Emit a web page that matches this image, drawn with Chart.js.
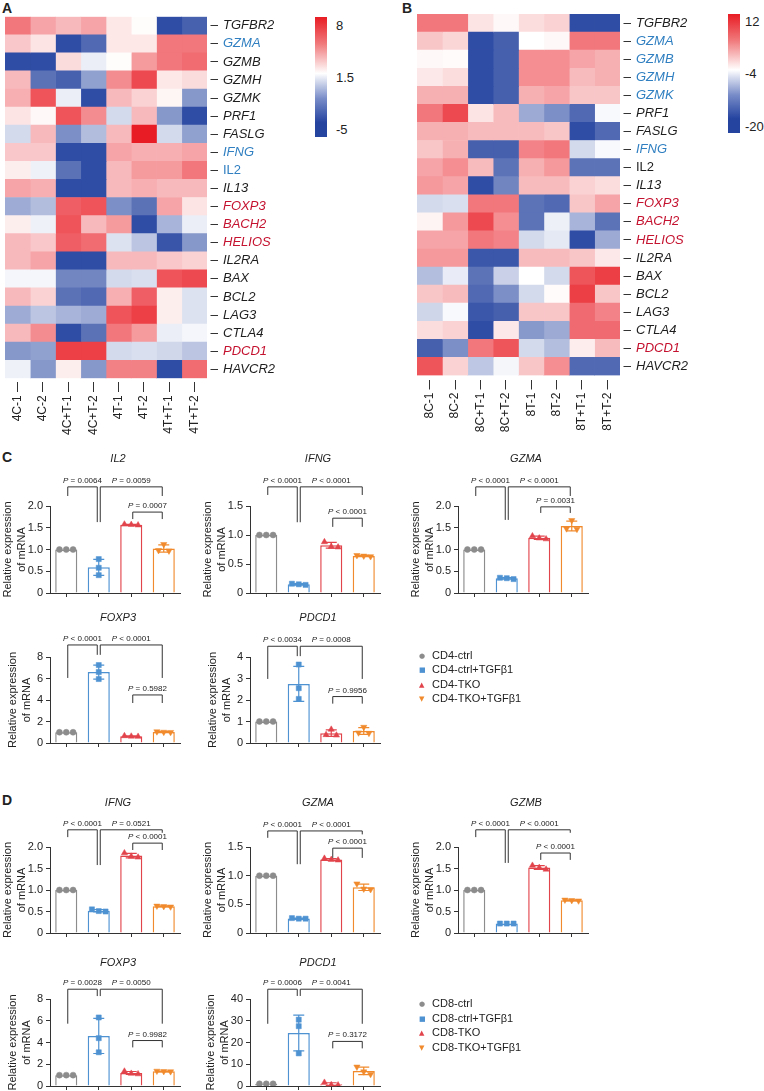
<!DOCTYPE html>
<html><head><meta charset="utf-8">
<script src="https://cdn.jsdelivr.net/npm/chart.js@4"></script>
<style>
html,body{margin:0;padding:0;background:#fff;overflow:hidden;width:764px;height:1091px;}
#wrap{position:relative;width:764px;height:1091px;font-family:'Liberation Sans',Arial,sans-serif;color:#222;}
canvas{position:absolute;}
.lbl{position:absolute;font-weight:bold;font-size:14px;line-height:14px;}
.ttl{position:absolute;font-style:italic;font-size:11px;line-height:12px;transform:translate(-50%,-50%);white-space:nowrap;}
.cb{position:absolute;width:12px;}
.cbl{position:absolute;font-size:13px;line-height:14px;transform:translateY(-50%);}
.leg{position:absolute;font-size:11px;line-height:13px;white-space:nowrap;transform:translateY(-50%);}
.leg span{display:inline-block;width:13px;font-size:7px;font-family:'DejaVu Sans',sans-serif;vertical-align:1px;}
</style></head><body><div id="wrap"></div>
<script>
// ---------------- DATA ----------------
const genes = ['TGFBR2','GZMA','GZMB','GZMH','GZMK','PRF1','FASLG','IFNG','IL2','IL13','FOXP3','BACH2','HELIOS','IL2RA','BAX','BCL2','LAG3','CTLA4','PDCD1','HAVCR2'];
const samplesA = ['4C-1','4C-2','4C+T-1','4C+T-2','4T-1','4T-2','4T+T-1','4T+T-2'];
const samplesB = ['8C-1','8C-2','8C+T-1','8C+T-2','8T-1','8T-2','8T+T-1','8T+T-2'];
const geneColA = ['k','b','k','k','k','k','k','b','b','k','r','r','r','k','k','k','k','k','r','k'];
const geneColB = ['k','b','b','b','b','k','k','b','k','k','r','r','r','k','k','k','k','k','r','k'];
const scaleA = [-5, 1.5, 8];
const scaleB = [-20, -4, 12];
const heatA = [
  [5.4,4.1,3.5,4.1,2.2,1.6,-4.7,-4.0],
  [3.1,2.3,-4.7,-3.7,2.2,2.2,5.4,5.4],
  [-4.7,-4.7,2.5,0.9,1.6,4.4,5.4,5.7],
  [3.5,-3.4,-4.0,-1.8,4.8,6.7,2.2,2.5],
  [3.8,6.4,0.9,-4.7,3.5,2.8,1.8,-2.1],
  [2.3,1.7,6.4,4.8,0.2,3.5,-2.1,-4.7],
  [0.2,3.5,-2.4,-0.8,3.5,8.0,0.2,-1.8],
  [3.1,3.1,-4.7,-4.7,4.1,3.8,3.8,4.1],
  [2.0,1.0,-3.4,-4.7,3.5,4.4,4.4,5.4],
  [4.1,3.8,-4.7,-4.7,3.5,3.8,3.5,3.5],
  [-1.4,-0.8,6.1,6.4,-2.4,-3.4,4.1,2.3],
  [2.0,1.0,6.4,3.5,4.4,-4.7,-1.1,0.9],
  [3.5,3.1,6.1,5.7,0.5,-0.5,-4.4,-2.1],
  [3.5,4.1,-4.7,-4.7,3.5,3.5,3.1,2.8],
  [1.2,1.2,-2.7,-2.7,0.2,0.4,6.4,6.7],
  [3.5,2.8,-3.4,-3.7,3.8,6.1,2.0,0.5],
  [-1.4,-0.5,-1.1,-1.4,6.4,7.0,2.0,0.5],
  [3.5,4.8,-4.7,-3.4,5.4,4.4,0.9,1.2],
  [-2.1,-1.8,7.0,7.0,0.2,0.4,0.1,-0.5],
  [1.0,-2.1,2.0,-2.1,5.1,5.1,-4.7,5.7]
];
const heatB = [
  [5.6,5.6,-2.1,-3.5,-1.6,-0.8,-19.2,-19.2],
  [0,-1.1,-19.2,-17.6,-4,-3.5,5.6,5.6],
  [-3.5,-3.7,-19.2,-17.6,4,4,2.4,1.6],
  [-2.4,-1.6,-19.2,-17.6,4,4,0.8,1.6],
  [1.6,1.6,-19.2,-17.6,1.6,2.4,0,0],
  [5.6,8.8,-2.1,0.8,-11.2,-13.6,-16.8,-4.5],
  [1.6,1.6,0.8,0.8,0.8,0,-19.2,-16.8],
  [0,1.6,-17.6,-17.6,4.8,5.6,-7.2,-4.5],
  [2.4,4,0.8,-16,1.6,3.2,-16,-16],
  [3.2,2.4,-19.2,-14.4,0.8,0.8,-0.8,-1.6],
  [-7.2,-6.7,5.6,5.6,-16,-16.8,0,2.4],
  [-3.2,3.2,8.8,4,-16,-5.3,-10.4,-16],
  [2.4,2.4,5.6,4.8,-7.2,-5.9,-19.2,-11.2],
  [3.2,3.2,-18.4,-18.4,0.8,0.8,0,-2.4],
  [-9.6,-5.6,-16,-8,-4,-7.2,8,9.6],
  [0,0.8,-16.8,-13.6,-7.2,-3.7,9.6,0],
  [-7.5,-4.5,-18.4,-17.6,0,0,6.4,4.8],
  [-1.6,-0.8,-19.2,-2.4,-12.8,-11.2,6.4,6.4],
  [-17.6,-13.6,5.6,8,-7.2,-9.6,-2.7,0.8],
  [8,-0.8,-8.8,-4.8,0,4,-16.8,-16.8]
];
const groupsCD4 = ['CD4-ctrl','CD4-ctrl+TGFβ1','CD4-TKO','CD4-TKO+TGFβ1'];
const groupsCD8 = ['CD8-ctrl','CD8-ctrl+TGFβ1','CD8-TKO','CD8-TKO+TGFβ1'];
// replicate values (3 per group): ctrl, ctrl+TGFb1, TKO, TKO+TGFb1
const C_IL2   = [[1,1,1],[0.78,0.58,0.41],[1.58,1.57,1.56],[1.12,0.97,0.98]];
const C_IFNG  = [[1,1,1],[0.16,0.15,0.14],[0.88,0.80,0.79],[0.65,0.64,0.63]];
const C_GZMA  = [[1,1,1],[0.35,0.34,0.32],[1.31,1.26,1.24],[1.67,1.48,1.47]];
const C_FOXP3 = [[1,1,1],[7.25,6.6,5.95],[0.66,0.62,0.6],[1.06,1.02,1.0]];
const C_PDCD1 = [[1,1,1],[3.65,2.55,2.05],[0.63,0.38,0.36],[0.74,0.48,0.46]];
const D_IFNG  = [[1,1,1],[0.55,0.51,0.5],[1.86,1.78,1.76],[0.63,0.62,0.61]];
const D_GZMA  = [[1,1,1],[0.26,0.25,0.25],[1.3,1.28,1.27],[0.86,0.77,0.76]];
const D_GZMB  = [[1,1,1],[0.22,0.22,0.22],[1.57,1.52,1.48],[0.77,0.76,0.75]];
const D_FOXP3 = [[1,1,1],[6.3,4.4,3.1],[1.35,1.15,1.1],[1.38,1.35,1.33]];
const D_PDCD1 = [[1,1,1],[30.5,27.5,15],[1.6,0.5,0.4],[8.8,6.6,5.4]];
// significance brackets: groups a-b, bracket top / leg ends in axis units, P text
const BR_C_IL2   = [{a:0,b:1,top:2.44,ea:2.23,eb:1.63,p:'= 0.0064'},{a:1,b:3,top:2.44,ea:1.63,eb:2.23,p:'= 0.0059'},{a:2,b:3,top:1.86,ea:1.70,eb:1.70,p:'= 0.0007'}];
const BR_C_IFNG  = [{a:0,b:1,top:1.83,ea:1.69,eb:1.22,p:'< 0.0001'},{a:1,b:3,top:1.83,ea:1.22,eb:1.69,p:'< 0.0001'},{a:2,b:3,top:1.29,ea:1.14,eb:1.14,p:'< 0.0001'}];
const BR_C_GZMA  = [{a:0,b:1,top:2.44,ea:2.23,eb:1.68,p:'< 0.0001'},{a:1,b:3,top:2.44,ea:1.68,eb:2.23,p:'< 0.0001'},{a:2,b:3,top:1.98,ea:1.84,eb:1.84,p:'= 0.0031'}];
const BR_C_FOXP3 = [{a:0,b:1,top:9.12,ea:6.05,eb:8.2,p:'< 0.0001'},{a:1,b:3,top:9.12,ea:8.2,eb:6.05,p:'< 0.0001'},{a:2,b:3,top:4.47,ea:3.72,eb:3.72,p:'= 0.5982'}];
const BR_C_PDCD1 = [{a:0,b:1,top:4.5,ea:2.98,eb:4.04,p:'< 0.0034'},{a:1,b:3,top:4.5,ea:4.04,eb:2.98,p:'= 0.0008'},{a:2,b:3,top:2.16,ea:1.83,eb:1.83,p:'= 0.9956'}];
const BR_D_IFNG  = [{a:0,b:1,top:2.4,ea:2.23,eb:1.58,p:'< 0.0001'},{a:1,b:3,top:2.4,ea:1.58,eb:2.33,p:'= 0.0521'},{a:2,b:3,top:2.09,ea:1.93,eb:1.93,p:'< 0.0001'}];
const BR_D_GZMA  = [{a:0,b:1,top:1.78,ea:1.66,eb:1.2,p:'< 0.0001'},{a:1,b:3,top:1.78,ea:1.2,eb:1.72,p:'< 0.0001'},{a:2,b:3,top:1.48,ea:1.31,eb:1.31,p:'< 0.0001'}];
const BR_D_GZMB  = [{a:0,b:1,top:2.4,ea:2.23,eb:1.63,p:'< 0.0001'},{a:1,b:3,top:2.4,ea:1.63,eb:2.33,p:'< 0.0001'},{a:2,b:3,top:1.86,ea:1.70,eb:1.70,p:'< 0.0001'}];
const BR_D_FOXP3 = [{a:0,b:1,top:8.9,ea:5.73,eb:8.27,p:'= 0.0028'},{a:1,b:3,top:8.9,ea:8.27,eb:5.73,p:'= 0.0050'},{a:2,b:3,top:4.18,ea:3.55,eb:3.55,p:'= 0.9982'}];
const BR_D_PDCD1 = [{a:0,b:1,top:44.5,ea:28.6,eb:41.4,p:'= 0.0006'},{a:1,b:3,top:44.5,ea:41.4,eb:28.6,p:'= 0.0041'},{a:2,b:3,top:20.5,ea:17.3,eb:17.3,p:'= 0.3172'}];

// ---------------- STYLE ----------------
const FONT = "'Liberation Sans', Arial, sans-serif";
Chart.defaults.font.family = FONT;
Chart.defaults.color = '#222';
const LABEL_COLORS = {k:'#1e1e1e', b:'#2f7fc1', r:'#c4122f'};
const GROUP_COLORS = ['#8c8c8c','#4e92d2','#e2444c','#f08a2c'];
const STYLES = ['circle','rect','triangle','triangle'];
const RADII = [3, 3.6, 3.6, 3.6];
const MARKS = ['●','■','▲','▼'];
const wrap = document.getElementById('wrap');

function addCanvas(left, top, w, h) {
  const c = document.createElement('canvas');
  c.width = w; c.height = h;
  Object.assign(c.style, {left: left + 'px', top: top + 'px', width: w + 'px', height: h + 'px'});
  wrap.appendChild(c);
  return c;
}
function addDiv(cls, html, left, top, style) {
  const d = document.createElement('div');
  d.className = cls; d.innerHTML = html;
  d.style.left = left + 'px'; d.style.top = top + 'px';
  if (style) Object.assign(d.style, style);
  wrap.appendChild(d);
  return d;
}
function heatColor(v, s) {
  const [lo, mid, hi] = s;
  const blue = [37, 68, 160], red = [232, 28, 36];
  let t, c;
  if (v >= mid) { t = Math.min(1, (v - mid) / (hi - mid)); c = red; }
  else { t = Math.min(1, (mid - v) / (mid - lo)); c = blue; }
  const m = c.map(k => Math.round(255 + (k - 255) * t));
  return `rgb(${m[0]},${m[1]},${m[2]})`;
}

function heatmap(g) {
  const cv = addCanvas(g.left, 0, g.width, g.height);
  new Chart(cv, {
    type: 'bar',
    data: {
      labels: genes,
      datasets: g.samples.map((s, c) => ({
        label: s,
        data: genes.map(() => [c, c + 1]),
        backgroundColor: g.matrix.map(row => heatColor(row[c], g.scale)),
        borderWidth: 0, barPercentage: 1, categoryPercentage: 1, grouped: false
      }))
    },
    options: {
      indexAxis: 'y', responsive: false, animation: false, devicePixelRatio: 1, events: [],
      layout: {padding: {left: g.padLeft, top: g.padTop, right: 0, bottom: 0}},
      plugins: {legend: {display: false}, tooltip: {enabled: false}},
      scales: {
        x: {
          type: 'linear', min: 0, max: g.samples.length, position: 'bottom',
          afterBuildTicks: sc => { sc.ticks = g.samples.map((s, i) => ({value: i + 0.5})); },
          afterFit: sc => { sc.height = g.xAxisH; },
          border: {display: false},
          grid: {drawOnChartArea: false, drawTicks: true, tickLength: 14, tickColor: '#333', tickWidth: 1, tickBorderDash: [10, 4], tickBorderDashOffset: 10},
          ticks: {autoSkip: false, maxRotation: 90, minRotation: 90, padding: 3, font: {size: 12}, color: '#222', callback: (v, i) => g.samples[i]}
        },
        y: {
          type: 'category', position: 'right', offset: true,
          afterFit: sc => { sc.width = g.yAxisW; },
          border: {display: false},
          grid: {drawOnChartArea: false, offset: false, drawTicks: true, tickLength: 11, tickColor: '#333', tickWidth: 1, tickBorderDash: [7.5, 3.5], tickBorderDashOffset: 7.5},
          ticks: {
            autoSkip: false, padding: 5,
            color: ctx => LABEL_COLORS[g.gcol[ctx.index]],
            font: ctx => ({family: FONT, size: 13, style: genes[ctx.index] === 'IL2' ? 'normal' : 'italic'})
          }
        }
      }
    }
  });
}

function mean(a) { return a.reduce((s, v) => s + v, 0) / a.length; }
function sd(a) { const m = mean(a); return Math.sqrt(a.reduce((s, v) => s + (v - m) * (v - m), 0) / (a.length - 1)); }
function jitter(vals, thresh) {
  const idx = vals.map((v, i) => i).sort((a, b) => vals[b] - vals[a]);
  const off = vals.map(() => 0);
  let cl = [idx[0]];
  const flush = () => {
    const n = cl.length;
    const sp = n === 2 ? [-0.16, 0.16] : n === 3 ? [-0.21, 0, 0.21] : [0];
    cl.forEach((k, j) => off[k] = sp[j]);
  };
  for (let j = 1; j < idx.length; j++) {
    if (Math.abs(vals[idx[j - 1]] - vals[idx[j]]) < thresh) cl.push(idx[j]);
    else { flush(); cl = [idx[j]]; }
  }
  flush();
  return off;
}

function barChart(sp) {
  const {PL, PR, PT, PB, reps, max, step, brackets, groups} = sp;
  const W = PR - PL + 60, H = PB - PT + 85;
  const cv = addCanvas(PL - 50, PT - 75, W, H);
  const thresh = 0.06 * max;
  const fmt = v => step < 1 ? (v === 0 ? '0' : v.toFixed(1)) : String(v);
  const maxChars = Math.max(...[0, max].map(v => fmt(v).length));
  const titlePad = maxChars >= 3 ? 1 : maxChars === 2 ? 4 : 6.5;
  const datasets = [{
    type: 'bar', label: 'mean',
    data: reps.map((vals, i) => ({x: i, y: mean(vals)})),
    backgroundColor: '#ffffff', borderColor: GROUP_COLORS,
    borderWidth: 1.5, barPercentage: 0.68, categoryPercentage: 1, order: 2
  }];
  reps.forEach((vals, i) => {
    const off = jitter(vals, thresh);
    datasets.push({
      type: 'scatter', label: groups[i], order: 1,
      data: vals.map((v, k) => ({x: i + off[k], y: v})),
      pointStyle: STYLES[i], rotation: i === 3 ? 180 : 0, pointRadius: RADII[i],
      backgroundColor: GROUP_COLORS[i], borderColor: GROUP_COLORS[i], borderWidth: 0.5
    });
  });
  const plug = {
    id: 'anno',
    afterDatasetDraw(chart, args) {
      if (args.index !== 0) return;
      const ctx = chart.ctx, xs = chart.scales.x, ys = chart.scales.y;
      ctx.save(); ctx.lineWidth = 1.2;
      reps.forEach((vals, i) => {
        const m = mean(vals), s = sd(vals);
        if (s < 1e-9) return;
        const x = xs.getPixelForValue(i);
        const y1 = ys.getPixelForValue(m + s), y2 = ys.getPixelForValue(Math.max(0, m - s));
        ctx.strokeStyle = GROUP_COLORS[i];
        ctx.beginPath();
        ctx.moveTo(x, y1); ctx.lineTo(x, y2);
        ctx.moveTo(x - 5.5, y1); ctx.lineTo(x + 5.5, y1);
        ctx.moveTo(x - 5.5, y2); ctx.lineTo(x + 5.5, y2);
        ctx.stroke();
      });
      ctx.restore();
    },
    afterDraw(chart) {
      const ctx = chart.ctx, xs = chart.scales.x, ys = chart.scales.y;
      ctx.save();
      ctx.strokeStyle = '#333'; ctx.lineWidth = 1; ctx.fillStyle = '#222';
      brackets.forEach(b => {
        const xa = xs.getPixelForValue(b.a) + 1.5, xb = xs.getPixelForValue(b.b) - 1.5;
        const yt = ys.getPixelForValue(b.top), ya = ys.getPixelForValue(b.ea), yb = ys.getPixelForValue(b.eb);
        ctx.beginPath();
        ctx.moveTo(xa, ya); ctx.lineTo(xa, yt); ctx.lineTo(xb, yt); ctx.lineTo(xb, yb);
        ctx.stroke();
        const cx = (xa + xb) / 2;
        ctx.font = 'italic 8px ' + FONT; const w1 = ctx.measureText('P ').width;
        ctx.font = '8px ' + FONT; const w2 = ctx.measureText(b.p).width;
        const x0 = cx - (w1 + w2) / 2, yy = yt - 4;
        ctx.textBaseline = 'alphabetic'; ctx.textAlign = 'left';
        ctx.font = 'italic 8px ' + FONT; ctx.fillText('P', x0, yy);
        ctx.font = '8px ' + FONT; ctx.fillText(b.p, x0 + w1, yy);
      });
      ctx.restore();
    }
  };
  new Chart(cv, {
    type: 'scatter',
    data: {datasets},
    options: {
      responsive: false, animation: false, devicePixelRatio: 1, events: [],
      layout: {padding: {left: 0, top: 75, right: 10, bottom: 0}},
      plugins: {legend: {display: false}, tooltip: {enabled: false}},
      scales: {
        x: {
          type: 'linear', min: -0.5, max: 3.5, offset: false,
          afterBuildTicks: sc => { sc.ticks = groups.map((g, i) => ({value: i})); },
          afterFit: sc => { sc.height = 10; },
          border: {display: true, color: '#333', width: 1},
          grid: {drawOnChartArea: false, offset: false, drawTicks: true, tickLength: 4, tickColor: '#333'},
          ticks: {display: false}
        },
        y: {
          type: 'linear', min: 0, max: max,
          afterFit: sc => { sc.width = 50; },
          border: {display: true, color: '#333', width: 1},
          grid: {drawOnChartArea: false, drawTicks: true, tickLength: 4, tickColor: '#333'},
          ticks: {stepSize: step, padding: 3, font: {size: 11}, color: '#222', callback: v => fmt(v)},
          title: {display: true, text: ['Relative expression', 'of mRNA'], font: {size: 11, lineHeight: 1.25}, color: '#222', padding: {top: titlePad, bottom: 0}}
        }
      }
    },
    plugins: [plug]
  });
  addDiv('ttl', sp.title, (PL + PR) / 2 + 3, sp.titleY);
}

// ---------------- LAYOUT ----------------
addDiv('lbl', 'A', 2, 1);
addDiv('lbl', 'B', 402, 1);
addDiv('lbl', 'C', 2, 450);
addDiv('lbl', 'D', 2, 793);

heatmap({left: 0, width: 300, height: 445, padLeft: 5, padTop: 16.7, xAxisH: 66.7, yAxisW: 93, samples: samplesA, matrix: heatA, scale: scaleA, gcol: geneColA});
heatmap({left: 412, width: 300, height: 445, padLeft: 5, padTop: 14, xAxisH: 69.5, yAxisW: 92, samples: samplesB, matrix: heatB, scale: scaleB, gcol: geneColB});

function colorBar(left, top, h, labels, lx) {
  addDiv('cb', '', left, top, {height: h + 'px', background: 'linear-gradient(to bottom, rgb(232,28,36) 0%, rgb(240,120,122) 22%, #ffffff 47%, rgb(120,140,200) 68%, rgb(37,68,160) 88%, rgb(37,68,160) 100%)'});
  labels.forEach(([t, y]) => addDiv('cbl', t, lx, y));
}
colorBar(315, 17, 120, [['8', 26], ['1.5', 78], ['-5', 130]], 336);
colorBar(728, 14, 119, [['12', 22], ['-4', 74], ['-20', 127]], 745);

const COLS = [[50, 180], [250, 380], [458, 588]];
const ROWS = {C1: [506, 593, 458], C2: [657, 743, 617], D1: [847, 933, 802], D2: [999, 1086, 962]};
const panels = [
  ['C1', 0, 'IL2', C_IL2, 2, 0.5, BR_C_IL2, groupsCD4],
  ['C1', 1, 'IFNG', C_IFNG, 1.5, 0.5, BR_C_IFNG, groupsCD4],
  ['C1', 2, 'GZMA', C_GZMA, 2, 0.5, BR_C_GZMA, groupsCD4],
  ['C2', 0, 'FOXP3', C_FOXP3, 8, 2, BR_C_FOXP3, groupsCD4],
  ['C2', 1, 'PDCD1', C_PDCD1, 4, 1, BR_C_PDCD1, groupsCD4],
  ['D1', 0, 'IFNG', D_IFNG, 2, 0.5, BR_D_IFNG, groupsCD8],
  ['D1', 1, 'GZMA', D_GZMA, 1.5, 0.5, BR_D_GZMA, groupsCD8],
  ['D1', 2, 'GZMB', D_GZMB, 2, 0.5, BR_D_GZMB, groupsCD8],
  ['D2', 0, 'FOXP3', D_FOXP3, 8, 2, BR_D_FOXP3, groupsCD8],
  ['D2', 1, 'PDCD1', D_PDCD1, 40, 10, BR_D_PDCD1, groupsCD8]
];
panels.forEach(([r, c, title, reps, max, step, br, groups]) => {
  const [PT, PB, titleY] = ROWS[r];
  barChart({PL: COLS[c][0], PR: COLS[c][1], PT, PB, titleY, title, reps, max, step, brackets: br, groups});
});

function legend(groups, ys) {
  groups.forEach((g, i) => addDiv('leg', `<span style="color:${GROUP_COLORS[i]}">${MARKS[i]}</span>${g}`, 419, ys[i]));
}
legend(groupsCD4, [655.5, 670, 684.5, 699]);
legend(groupsCD8, [1004, 1018.5, 1033, 1047.5]);
</script></body></html>
